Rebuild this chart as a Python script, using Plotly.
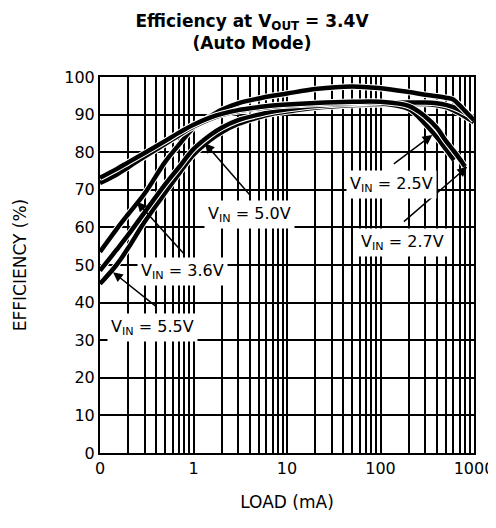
import plotly.graph_objects as go

# ---------------- data ----------------
load_36 = [0.1, 0.15, 0.2, 0.3, 0.5, 0.7, 1, 1.5, 2, 3, 5, 7, 10, 20, 50, 100, 200, 300, 400, 500, 600, 700, 800, 1000]
eff_36 = [53.5, 59.5, 63.5, 69, 77.5, 82, 86.5, 89.5, 91.3, 93, 94.3, 95, 95.6, 96.8, 97.5, 97, 96, 95.3, 94.9, 94.5, 94, 92.5, 91, 88.5]

load_27 = [0.1, 0.15, 0.2, 0.3, 0.5, 0.7, 1, 1.5, 2, 3, 5, 7, 10, 20, 50, 100, 200, 300, 400, 500, 600, 700, 800]
eff_27 = [73.2, 75.5, 77.3, 79.8, 83, 85.2, 87.3, 89.2, 90.2, 91.2, 92, 92.4, 92.7, 93.1, 93.4, 93.4, 92.3, 89.5, 86.5, 83, 80.5, 78.3, 76.2]

load_25 = [0.1, 0.15, 0.2, 0.3, 0.5, 0.7, 1, 1.5, 2, 3, 5, 7, 10, 20, 50, 100, 200, 300, 400, 500, 610]
eff_25 = [71.8, 74, 76, 78.8, 82.2, 84.5, 86.8, 88.8, 89.9, 90.9, 91.7, 92.1, 92.4, 92.8, 93.1, 93, 91.5, 87.5, 84, 80.8, 77.9]

load_50 = [0.1, 0.15, 0.2, 0.3, 0.5, 0.7, 1, 1.5, 2, 3, 5, 7, 10, 20, 50, 100, 200, 300, 400, 500, 600, 700, 800, 1000]
eff_50 = [48.5, 54, 58, 64, 71.5, 76, 80.8, 84.5, 86.5, 88.5, 90, 90.8, 91.4, 92.3, 92.9, 93.1, 93.2, 93.2, 93, 92.6, 92, 91.3, 90.5, 89.3]

load_55 = [0.1, 0.15, 0.2, 0.3, 0.5, 0.7, 1, 1.5, 2, 3, 5, 7, 10, 20, 50, 100, 200, 300, 400, 500, 600, 700, 800, 1000]
eff_55 = [45, 50, 54.5, 61.5, 69.3, 74.3, 79.3, 83.2, 85.3, 87.5, 89.3, 90.2, 90.8, 91.8, 92.5, 92.7, 92.8, 92.8, 92.5, 92, 91.2, 90.3, 89.5, 88]

x_tickvals = [0.1, 1, 10, 100, 1000]
x_ticktext = ["0", "1", "10", "100", "1000"]
y_tickvals = [0, 10, 20, 30, 40, 50, 60, 70, 80, 90, 100]

series = [
    ("V_IN = 5.5V", load_55, eff_55),
    ("V_IN = 5.0V", load_50, eff_50),
    ("V_IN = 3.6V", load_36, eff_36),
    ("V_IN = 2.5V", load_25, eff_25),
    ("V_IN = 2.7V", load_27, eff_27),
]

FONT = "DejaVu Sans, Liberation Sans, Arial, sans-serif"

fig = go.Figure()
for name, xs, ys in series:
    fig.add_trace(go.Scatter(x=xs, y=ys, mode="lines", line=dict(color="white", width=6.5, shape="spline"),
                             hoverinfo="skip", showlegend=False))
    fig.add_trace(go.Scatter(x=xs, y=ys, mode="lines", name=name,
                             line=dict(color="black", width=4.5, shape="spline"), showlegend=False))

# label annotations (positions: log10 x for log axis)
labels = [
    ("V<sub>IN</sub> = 5.0V", 0.601, 63.3),
    ("V<sub>IN</sub> = 3.6V", -0.114, 48.4),
    ("V<sub>IN</sub> = 5.5V", -0.434, 33.5),
    ("V<sub>IN</sub> = 2.5V", 2.116, 71.3),
    ("V<sub>IN</sub> = 2.7V", 2.234, 55.9),
]
arrows = [
    (0.121, 82.4, 0.622, 68.1),
    (-0.605, 66.8, -0.093, 52.7),
    (-0.861, 48.1, -0.392, 38.8),
    (2.554, 84.6, 2.127, 76.6),
    (2.927, 76.1, 2.234, 61.2),
]
for tx, ty, sx, sy in arrows:
    fig.add_annotation(x=tx, y=ty, ax=sx, ay=sy, xref="x", yref="y", axref="x", ayref="y",
                       text="", showarrow=True, arrowhead=2, arrowsize=1.3, arrowwidth=1.5,
                       arrowcolor="black")
for txt, lx, ly in labels:
    fig.add_annotation(x=lx, y=ly, xref="x", yref="y", text=txt, showarrow=False,
                       bgcolor="white", borderpad=3, font=dict(family=FONT, size=16, color="black"))

# page body adds an 8px margin, so the figure is 8px smaller on each axis
fig.update_layout(
    width=488, height=520,
    margin=dict(l=92, r=22, t=69, b=75, autoexpand=False),
    paper_bgcolor="white", plot_bgcolor="white",
    font=dict(family=FONT, size=16, color="black"),
    title=dict(text="<b>Efficiency at V<sub>OUT</sub> = 3.4V<br>(Auto Mode)</b>",
               x=0.5, xref="container", xanchor="center",
               y=0.964, yref="container", yanchor="top",
               font=dict(family=FONT, size=17, color="black")),
    showlegend=False,
)
fig.update_xaxes(
    type="log", range=[-1, 3], automargin=False,
    tickmode="array", tickvals=x_tickvals, ticktext=x_ticktext,
    ticks="", showgrid=True, gridcolor="black", gridwidth=2,
    minor=dict(dtick="D1", showgrid=True, gridcolor="black", gridwidth=1.5, ticks=""),
    showline=True, linecolor="black", linewidth=2, mirror=True,
    zeroline=False,
    title=dict(text="LOAD (mA)", font=dict(family=FONT, size=17), standoff=19),
    tickfont=dict(family=FONT, size=16),
)
fig.update_yaxes(
    range=[0, 100], tickmode="array", tickvals=y_tickvals, automargin=False,
    ticks="", showgrid=True, gridcolor="black", gridwidth=2,
    showline=True, linecolor="black", linewidth=2, mirror=True,
    zeroline=False,
    title=dict(text="EFFICIENCY (%)", font=dict(family=FONT, size=17), standoff=33),
    tickfont=dict(family=FONT, size=16),
)

fig.write_html("out.html")
